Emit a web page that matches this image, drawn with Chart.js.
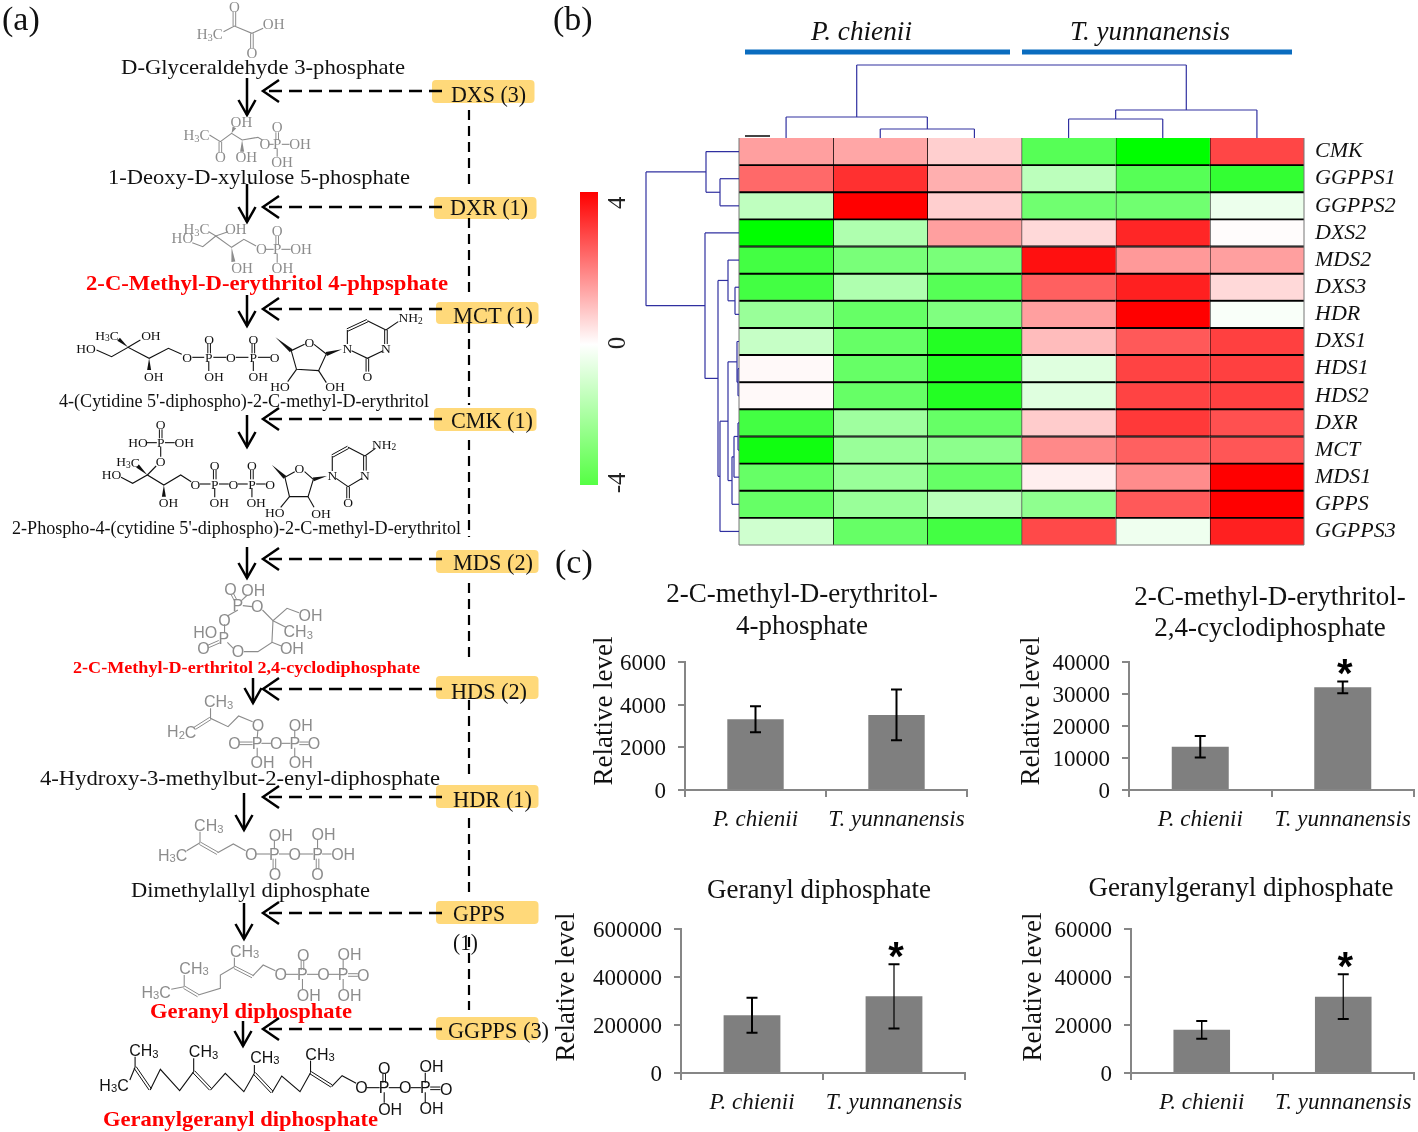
<!DOCTYPE html>
<html>
<head>
<meta charset="utf-8">
<script src="https://cdn.jsdelivr.net/npm/chart.js@4"></script>
<style>
html, body { margin: 0; padding: 0; background: #fff; overflow: hidden; }
#page { position: relative; width: 1418px; height: 1132px; overflow: hidden; }
.panel { position: absolute; }
#diagram { position: absolute; left: 0; top: 0; }
text { font-family: "Liberation Serif", serif; }
</style>
</head>
<body>
<div id="page">
  <div class="panel" id="boxHeat"><canvas id="heatChart"></canvas></div>
  <div class="panel" id="boxScale"><canvas id="scaleChart"></canvas></div>
  <div class="panel" id="boxMep"><canvas id="mepChart"></canvas></div>
  <div class="panel" id="boxCdp"><canvas id="cdpChart"></canvas></div>
  <div class="panel" id="boxGpp"><canvas id="gppChart"></canvas></div>
  <div class="panel" id="boxGgpp"><canvas id="ggppChart"></canvas></div>
  <svg id="diagram" width="1418" height="1132" xmlns="http://www.w3.org/2000/svg"></svg>
</div>
<script>
// --- heatmap data (b) ---
const genes = ['CMK', 'GGPPS1', 'GGPPS2', 'DXS2', 'MDS2', 'DXS3', 'HDR', 'DXS1', 'HDS1', 'HDS2', 'DXR', 'MCT', 'MDS1', 'GPPS', 'GGPPS3'];
const heatP1 = [1.5, 2.35, -1, -4, -2.95, -2.95, -1.6, -0.9, 0.1, 0.1, -2.95, -3.75, -2.4, -2.4, -0.75];
const heatP2 = [1.4, 3.25, 4, -1.25, -2.1, -1.25, -2.4, -2.4, -2.4, -2.4, -1.5, -1.6, -1.6, -1.6, -2.4];
const heatP3 = [0.75, 1.25, 0.75, 1.5, -2.1, -2.65, -2, -3.45, -3.45, -3.45, -2.4, -1.8, -2.4, -1.1, -2.95];
const heatT1 = [-2.65, -1.05, -2.25, 0.6, 3.75, 2.5, 1.5, 1.05, -0.5, -0.5, 0.8, 1.85, 0.25, -1.75, 2.85];
const heatT2 = [-4, -2.65, -2.25, 3.4, 1.6, 3.5, 4, 2.6, 2.95, 2.95, 3.1, 2.5, 1.8, 2.6, -0.25];
const heatT3 = [2.9, -3.2, -0.3, 0.05, 1.5, 0.6, -0.1, 3, 3, 3, 2.75, 2.65, 4, 4, 3.5];
const heatColumns = [heatP1, heatP2, heatP3, heatT1, heatT2, heatT3];
// linkage rows: [child, child, distance]; ids past the leaves point at earlier rows
const colLinkage = [[1, 2, 9], [0, 6, 21], [3, 4, 19], [8, 5, 28], [7, 9, 73]];
const rowLinkage = [[1, 2, 19], [0, 15, 33], [5, 6, 4], [4, 17, 11], [8, 9, 1], [7, 19, 2], [10, 11, 1], [12, 21, 5], [13, 22, 7], [20, 23, 11], [24, 14, 19], [18, 25, 21], [3, 26, 34], [16, 27, 93]];
const scaleTicks = [4, 0, -4];
const scaleRange = [-4.06, 4.31];

// --- bar data (c) ---
const species = ['P. chienii', 'T. yunnanensis'];
const mepLevel = [3320, 3520];
const mepError = [610, 1190];
const cdpLevel = [13530, 32090];
const cdpError = [3370, 1830];
const gppLevel = [240600, 319500];
const gppError = [72600, 133600];
const ggppLevel = [17970, 31800];
const ggppError = [3670, 9340];

function setBox(id, b) {
    const el = document.getElementById(id);
    el.style.left = b.l + 'px'; el.style.top = b.t + 'px';
    el.style.width = (b.r - b.l) + 'px'; el.style.height = (b.b - b.t) + 'px';
}

function heatColor(v) {
    const c = Math.round(255 * (1 - Math.abs(v) / 4));
    return v >= 0 ? `rgb(255,${c},${c})` : `rgb(${c},255,${c})`;
}

// walks a linkage table and draws the brackets; pos() and off() map to pixels
function drawTree(ctx, linkage, n, pos, off, horizontal) {
    const place = [];
    for (let i = 0; i < n; i++) place[i] = { p: pos(i), d: 0 };
    linkage.forEach((m, k) => {
        const a = place[m[0]], b = place[m[1]], d = off(m[2]);
        const seg = [[a.p, off(a.d), a.p, d], [a.p, d, b.p, d], [b.p, d, b.p, off(b.d)]];
        seg.forEach(s => {
            ctx.beginPath();
            if (horizontal) { ctx.moveTo(s[0], s[1]); ctx.lineTo(s[2], s[3]); }
            else { ctx.moveTo(s[1], s[0]); ctx.lineTo(s[3], s[2]); }
            ctx.stroke();
        });
        place[n + k] = { p: (a.p + b.p) / 2, d: m[2] };
    });
}

const heatBox = { l: 640, t: 60, r: 1418, b: 548 };
const heatPlot = { l: 739, t: 138, r: 1304, b: 545 };
setBox('boxHeat', heatBox);
new Chart(document.getElementById('heatChart'), {
    type: 'bar',
    data: {
        labels: genes,
        datasets: heatColumns.map((col, c) => ({
            data: col.map(() => [c, c + 1]),
            backgroundColor: col.map(heatColor),
            borderColor: '#000',
            borderSkipped: false,
            borderWidth: ctx => ({
                top: ctx.dataIndex === 0 ? 0 : 1.3,
                bottom: ctx.dataIndex === genes.length - 1 ? 0 : 1.3,
                left: c === 0 ? 0 : 1,
                right: 0
            }),
            barPercentage: 1,
            categoryPercentage: 1,
            grouped: false
        }))
    },
    options: {
        indexAxis: 'y',
        responsive: true,
        maintainAspectRatio: false,
        animation: false,
        layout: { padding: { left: heatPlot.l - heatBox.l, top: heatPlot.t - heatBox.t, right: 0, bottom: heatBox.b - heatPlot.b } },
        plugins: { legend: { display: false }, tooltip: { enabled: false } },
        scales: {
            x: { type: 'linear', min: 0, max: 6, display: false },
            y: {
                type: 'category',
                position: 'right',
                grid: { display: false },
                border: { display: false },
                ticks: { color: '#111', padding: 3, autoSkip: false, font: { family: 'Liberation Serif', style: 'italic', size: 22 } },
                afterFit(s) { s.width = heatBox.r - heatPlot.r; s.paddingTop = 0; s.paddingBottom = 0; }
            }
        }
    },
    plugins: [{
        id: 'dendrograms',
        afterDraw(chart) {
            const { ctx, chartArea: area, scales: { x, y } } = chart;
            ctx.save();
            ctx.strokeStyle = '#777';
            ctx.lineWidth = 1;
            ctx.beginPath();
            ctx.moveTo(area.left, area.top); ctx.lineTo(area.left, area.bottom);
            ctx.lineTo(area.right, area.bottom); ctx.lineTo(area.right, area.top);
            ctx.stroke();
            ctx.strokeStyle = '#3030a0';
            ctx.lineWidth = 1.2;
            drawTree(ctx, colLinkage, 6, i => x.getPixelForValue(i + 0.5), d => area.top - d, true);
            drawTree(ctx, rowLinkage, genes.length, i => y.getPixelForTick(i), d => area.left - d, false);
            ctx.restore();
        }
    }]
});

// colour key
const scaleBox = { l: 570, t: 180, r: 640, b: 500 };
const scalePlot = { l: 580, t: 192, r: 598, b: 485 };
setBox('boxScale', scaleBox);
new Chart(document.getElementById('scaleChart'), {
    type: 'bar',
    data: {
        labels: [''],
        datasets: [{
            data: [scaleRange],
            barPercentage: 1,
            categoryPercentage: 1,
            backgroundColor(c) {
                const area = c.chart.chartArea;
                if (!area) return '#fff';
                const g = c.chart.ctx.createLinearGradient(0, area.top, 0, area.bottom);
                g.addColorStop(0, '#ff0000');
                g.addColorStop(0.52, '#ffffff');
                g.addColorStop(1, '#55ff44');
                return g;
            }
        }]
    },
    options: {
        responsive: true,
        maintainAspectRatio: false,
        animation: false,
        layout: { padding: { left: scalePlot.l - scaleBox.l, top: scalePlot.t - scaleBox.t, right: scaleBox.r - scalePlot.r, bottom: scaleBox.b - scalePlot.b } },
        plugins: { legend: { display: false }, tooltip: { enabled: false } },
        scales: {
            x: { display: false },
            y: { min: scaleRange[0], max: scaleRange[1], display: false }
        }
    },
    plugins: [{
        id: 'keyLabels',
        afterDraw(chart) {
            const { ctx, scales: { y } } = chart;
            ctx.save();
            ctx.fillStyle = '#222';
            ctx.font = '25px "Liberation Serif"';
            ctx.textAlign = 'center';
            ctx.textBaseline = 'middle';
            scaleTicks.forEach(t => {
                ctx.save();
                ctx.translate(618 - scaleBox.l, y.getPixelForValue(t));
                ctx.rotate(-Math.PI / 2);
                ctx.fillText(String(t), 0, 0);
                ctx.restore();
            });
            ctx.restore();
        }
    }]
});

const axisGrey = '#868686';

function levelChart(cfg) {
    const { canvas, box, plot } = cfg;
    setBox(canvas.replace('Chart', '').replace(/^./, c => 'box' + c.toUpperCase()), box);
    new Chart(document.getElementById(canvas), {
        type: 'bar',
        data: {
            labels: species,
            datasets: [{ data: cfg.values, backgroundColor: '#7f7f7f', barPercentage: 0.8, categoryPercentage: 0.5 }]
        },
        options: {
            responsive: true,
            maintainAspectRatio: false,
            animation: false,
            layout: { padding: { left: 0, top: plot.t - box.t, right: box.r - plot.r, bottom: 0 } },
            plugins: { legend: { display: false }, tooltip: { enabled: false } },
            scales: {
                x: {
                    grid: { drawOnChartArea: false, color: axisGrey, tickLength: 7, lineWidth: 2 },
                    border: { color: axisGrey, width: 2 },
                    ticks: { color: '#111', padding: 9, autoSkip: false, maxRotation: 0, font: { family: 'Liberation Serif', style: 'italic', size: 23 } },
                    afterFit(s) { s.height = box.b - plot.b; s.paddingLeft = 0; s.paddingRight = 0; }
                },
                y: {
                    min: 0,
                    max: cfg.max,
                    grid: { drawOnChartArea: false, color: axisGrey, tickLength: 7, lineWidth: 2 },
                    border: { color: axisGrey, width: 2 },
                    ticks: { stepSize: cfg.step, color: '#111', padding: 12, labelOffset: 2, callback: v => String(v), font: { family: 'Liberation Serif', size: 23 } },
                    afterFit(s) { s.width = plot.l - box.l; }
                }
            }
        },
        plugins: [{
            id: 'errorsAndText',
            afterDatasetsDraw(chart) {
                const { ctx, scales: { y } } = chart;
                const bars = chart.getDatasetMeta(0).data;
                ctx.save();
                ctx.strokeStyle = '#000';
                ctx.fillStyle = '#000';
                bars.forEach((bar, i) => {
                    const hi = y.getPixelForValue(cfg.values[i] + cfg.errors[i]);
                    const lo = y.getPixelForValue(cfg.values[i] - cfg.errors[i]);
                    ctx.lineWidth = cfg.stemWidth[i];
                    ctx.beginPath();
                    ctx.moveTo(bar.x, hi); ctx.lineTo(bar.x, lo);
                    ctx.stroke();
                    ctx.lineWidth = 2;
                    ctx.beginPath();
                    ctx.moveTo(bar.x - 5.5, hi); ctx.lineTo(bar.x + 5.5, hi);
                    ctx.moveTo(bar.x - 5.5, lo); ctx.lineTo(bar.x + 5.5, lo);
                    ctx.stroke();
                    if (cfg.star[i]) {
                        ctx.font = 'bold 40px "Liberation Sans"';
                        ctx.textAlign = 'center';
                        ctx.textBaseline = 'middle';
                        ctx.fillText('*', bar.x + 2, hi - 5);
                    }
                });
                ctx.fillStyle = '#111';
                ctx.font = '27px "Liberation Serif"';
                ctx.textAlign = 'center';
                ctx.textBaseline = 'middle';
                cfg.title.forEach(t => ctx.fillText(t[0], t[1] - box.l, t[2] - box.t));
                ctx.save();
                ctx.translate(cfg.yLabel[0] - box.l, cfg.yLabel[1] - box.t);
                ctx.rotate(-Math.PI / 2);
                ctx.font = '27px "Liberation Serif"';
                ctx.fillText('Relative level', 0, 0);
                ctx.restore();
                ctx.restore();
            }
        }]
    });
}

levelChart({
    canvas: 'mepChart', box: { l: 550, t: 575, r: 1010, b: 850 }, plot: { l: 685, t: 662, r: 967, b: 790 },
    values: mepLevel, errors: mepError, max: 6000, step: 2000, star: [false, false], stemWidth: [2, 2],
    title: [['2-C-methyl-D-erythritol-', 802, 595], ['4-phosphate', 802, 627]], yLabel: [605, 711]
});
levelChart({
    canvas: 'cdpChart', box: { l: 1012, t: 575, r: 1418, b: 850 }, plot: { l: 1129, t: 662, r: 1414, b: 790 },
    values: cdpLevel, errors: cdpError, max: 40000, step: 10000, star: [false, true], stemWidth: [2, 2],
    title: [['2-C-methyl-D-erythritol-', 1270, 598], ['2,4-cyclodiphosphate', 1270, 629]], yLabel: [1032, 711]
});
levelChart({
    canvas: 'gppChart', box: { l: 550, t: 870, r: 1010, b: 1132 }, plot: { l: 681, t: 929, r: 965, b: 1073 },
    values: gppLevel, errors: gppError, max: 600000, step: 200000, star: [false, true], stemWidth: [2, 1.2],
    title: [['Geranyl diphosphate', 819, 891]], yLabel: [567, 987]
});
levelChart({
    canvas: 'ggppChart', box: { l: 1012, t: 870, r: 1418, b: 1132 }, plot: { l: 1131, t: 929, r: 1414, b: 1073 },
    values: ggppLevel, errors: ggppError, max: 60000, step: 20000, star: [false, true], stemWidth: [1.5, 1.2],
    title: [['Geranylgeranyl diphosphate', 1241, 889]], yLabel: [1034, 987]
});

// --- everything below is the pathway diagram (a) and the labels around the panels ---
const svg = document.getElementById('diagram');
function el(name, attrs, parent) {
    const e = document.createElementNS('http://www.w3.org/2000/svg', name);
    for (const k in attrs) e.setAttribute(k, attrs[k]);
    (parent || svg).appendChild(e);
    return e;
}
function label(str, x, y, o) {
    o = o || {};
    const attrs = { x, y, 'font-size': o.size || 22, fill: o.color || '#111' };
    if (o.family) attrs.style = `font-family:${o.family}`;
    if (o.bold) attrs['font-weight'] = 'bold';
    if (o.italic) attrs['font-style'] = 'italic';
    if (o.anchor) attrs['text-anchor'] = o.anchor;
    if (o.central) attrs['dominant-baseline'] = 'central';
    if (o.fit) { attrs.textLength = o.fit; attrs.lengthAdjust = 'spacingAndGlyphs'; }
    const t = el('text', attrs);
    str.split('_').forEach((part, i) => {
        if (i === 0) { t.appendChild(document.createTextNode(part)); return; }
        el('tspan', { 'font-size': (o.size || 22) * 0.7, dy: 3 }, t).textContent = part[0];
        el('tspan', { dy: -3 }, t).textContent = part.slice(1) || '\u200b';
    });
    return t;
}
function poly(pts, color, w, dash) {
    const a = { points: pts.join(' '), fill: 'none', stroke: color, 'stroke-width': w };
    if (dash) a['stroke-dasharray'] = dash;
    el('polyline', a);
}

// coordinates of a structure are given in the zoomed crop (x/2.85, y/3 plus a base)
function molecule(m) {
    const X = v => v / 2.85, Y = v => m.base + v / 3;
    const map = p => p.map((v, i) => i % 2 ? Y(v) : X(v));
    (m.lines || []).forEach(p => poly(map(p), m.color, 1.1));
    (m.doubles || []).forEach(s => {
        const p = map(s), dx = p[2] - p[0], dy = p[3] - p[1], len = Math.hypot(dx, dy);
        const nx = -dy / len * 1.3, ny = dx / len * 1.3;
        poly([p[0] + nx, p[1] + ny, p[2] + nx, p[3] + ny], m.color, 1);
        poly([p[0] - nx, p[1] - ny, p[2] - nx, p[3] - ny], m.color, 1);
    });
    (m.wedges || []).forEach(s => {
        const p = map(s), dx = p[2] - p[0], dy = p[3] - p[1], len = Math.hypot(dx, dy);
        const nx = -dy / len * 2, ny = dx / len * 2;
        el('polygon', { points: [p[0], p[1], p[2] + nx, p[3] + ny, p[2] - nx, p[3] - ny].join(' '), fill: m.color });
    });
    (m.atoms || []).forEach(a => {
        label(a[2], X(a[0]), Y(a[1]), { size: m.size, color: m.color, family: m.family, anchor: 'middle', central: true });
    });
}

const grey = '#8c8c8c', sans = '"Liberation Sans"', serif = '"Liberation Serif"';
const structures = [
    { base: 0, color: grey, size: 15, family: serif,
      atoms: [[668, 20, 'O'], [780, 73, 'OH'], [598, 103, 'H_3C'], [718, 160, 'O']],
      lines: [[637, 95, 668, 78, 718, 100, 750, 85]],
      doubles: [[668, 35, 668, 78], [718, 100, 718, 145]] },
    { base: 0, color: grey, size: 15, family: serif,
      atoms: [[688, 367, 'OH'], [560, 405, 'H_3C'], [790, 382, 'O'], [755, 433, 'O'], [790, 433, 'P'], [855, 433, 'OH'], [628, 472, 'O'], [702, 470, 'OH'], [804, 487, 'OH']],
      lines: [[597, 405, 628, 425, 660, 400, 690, 420, 735, 412, 748, 420], [767, 433, 780, 433], [803, 433, 825, 433], [790, 446, 790, 470]],
      doubles: [[628, 425, 628, 458], [790, 397, 790, 420]],
      wedges: [[660, 400, 668, 382], [690, 420, 690, 455]] },
    { base: 0, color: grey, size: 15, family: serif,
      atoms: [[560, 688, 'H_3C'], [672, 688, 'OH'], [520, 715, 'HO'], [790, 693, 'O'], [745, 748, 'O'], [790, 748, 'P'], [858, 748, 'OH'], [690, 803, 'OH'], [805, 803, 'OH']],
      lines: [[548, 728, 578, 740, 615, 708, 660, 742, 695, 718, 730, 738], [595, 695, 615, 708, 650, 695], [758, 748, 780, 748], [802, 748, 828, 748], [790, 762, 790, 788]],
      doubles: [[790, 708, 790, 735]],
      wedges: [[660, 742, 665, 785]] },
    { base: 0, color: '#111', size: 13.5, family: serif,
      atoms: [[305, 1005, 'H_3C'], [430, 1005, 'OH'], [245, 1045, 'HO'], [533, 1072, 'O'], [595, 1072, 'P'], [596, 1017, 'O'], [610, 1128, 'OH'], [658, 1072, 'O'], [722, 1072, 'P'], [722, 1017, 'O'], [736, 1128, 'OH'], [783, 1072, 'O'], [882, 1026, 'O'], [990, 1045, 'N'], [1100, 1045, 'N'], [1170, 953, 'NH_2'], [1047, 1130, 'O'], [438, 1128, 'OH'], [798, 1158, 'HO'], [955, 1160, 'OH']],
      lines: [[275, 1050, 318, 1070, 365, 1042, 425, 1075, 480, 1045, 518, 1063], [365, 1042, 400, 1020], [548, 1072, 582, 1072], [608, 1072, 645, 1072], [672, 1072, 708, 1072], [735, 1072, 770, 1072], [595, 1084, 595, 1113], [722, 1084, 722, 1113], [868, 1033, 830, 1052, 845, 1108, 908, 1112, 930, 1062, 895, 1033], [845, 1108, 820, 1145], [908, 1112, 930, 1148], [990, 1032, 990, 990], [1047, 962, 1100, 990], [1092, 1052, 1047, 1075, 1002, 1052], [1100, 990, 1135, 965]],
      doubles: [[596, 1030, 596, 1060], [722, 1030, 722, 1060], [1047, 1075, 1047, 1115], [990, 990, 1047, 962], [1100, 990, 1100, 1032]],
      wedges: [[365, 1042, 338, 1018], [425, 1075, 425, 1110], [785, 1012, 830, 1052], [975, 1048, 930, 1062]] },
    { base: 390, color: '#111', size: 13.5, family: serif,
      atoms: [[458, 103, 'O'], [393, 158, 'HO'], [458, 158, 'P'], [525, 158, 'OH'], [365, 215, 'H_3C'], [458, 213, 'O'], [318, 254, 'HO'], [557, 282, 'O'], [612, 282, 'P'], [612, 227, 'O'], [625, 337, 'OH'], [665, 282, 'O'], [718, 282, 'P'], [718, 227, 'O'], [730, 337, 'OH'], [770, 282, 'O'], [853, 236, 'O'], [947, 255, 'N'], [1040, 255, 'N'], [1095, 163, 'NH_2'], [992, 338, 'O'], [480, 337, 'OH'], [783, 368, 'HO'], [915, 370, 'OH']],
      lines: [[345, 262, 378, 280, 420, 255, 467, 285, 515, 255, 545, 275], [420, 255, 445, 228], [418, 158, 447, 158], [470, 158, 498, 158], [458, 170, 458, 200], [570, 282, 600, 282], [624, 282, 652, 282], [678, 282, 706, 282], [730, 282, 757, 282], [612, 294, 612, 322], [718, 294, 718, 322], [840, 245, 812, 262, 825, 320, 878, 320, 893, 268, 868, 245], [825, 320, 800, 352], [878, 320, 895, 352], [947, 243, 947, 198], [992, 172, 1040, 198], [1032, 265, 992, 290, 958, 265], [1040, 198, 1070, 175]],
      doubles: [[458, 118, 458, 145], [612, 240, 612, 268], [718, 240, 718, 268], [992, 290, 992, 325], [947, 198, 992, 172], [1040, 198, 1040, 242]],
      wedges: [[420, 255, 392, 228], [467, 285, 467, 320], [775, 225, 812, 262], [932, 258, 893, 268]] },
    { base: 390, color: grey, size: 16, family: sans,
      atoms: [[657, 598, 'O'], [722, 600, 'OH'], [678, 645, 'P'], [733, 650, 'O'], [885, 675, 'OH'], [850, 725, 'CH_3'], [640, 690, 'O'], [585, 728, 'HO'], [638, 745, 'P'], [580, 775, 'O'], [678, 785, 'O'], [832, 775, 'OH']],
      lines: [[688, 632, 705, 615], [692, 647, 718, 650], [748, 660, 778, 692, 818, 655, 852, 668], [778, 692, 775, 757, 735, 785, 695, 785], [778, 692, 815, 712], [775, 757, 802, 768], [678, 660, 648, 678], [640, 703, 640, 730], [648, 757, 665, 775]],
      doubles: [[662, 612, 672, 632], [592, 770, 625, 755]] },
    { base: 390, color: grey, size: 16, family: sans,
      atoms: [[623, 935, 'CH_3'], [518, 1025, 'H_2C'], [735, 1005, 'O'], [857, 1005, 'OH'], [668, 1060, 'O'], [733, 1060, 'P'], [787, 1060, 'O'], [840, 1060, 'P'], [895, 1060, 'O'], [748, 1117, 'OH'], [857, 1117, 'OH']],
      lines: [[600, 955, 600, 985, 650, 1010, 680, 978, 720, 995], [735, 1020, 733, 1045], [745, 1060, 772, 1060], [802, 1060, 828, 1060], [840, 1020, 840, 1045], [733, 1073, 733, 1100], [840, 1073, 840, 1100]],
      doubles: [[555, 1015, 600, 985], [682, 1060, 720, 1060], [853, 1060, 880, 1060]] },
    { base: 780, color: grey, size: 16, family: sans,
      atoms: [[595, 137, 'CH_3'], [492, 225, 'H_3C'], [716, 222, 'O'], [782, 222, 'P'], [800, 165, 'OH'], [840, 222, 'O'], [905, 222, 'P'], [922, 162, 'OH'], [978, 222, 'OH'], [784, 283, 'O'], [905, 282, 'O']],
      lines: [[570, 155, 570, 188], [532, 212, 570, 188], [620, 218, 665, 192, 700, 212], [730, 222, 770, 222], [795, 222, 826, 222], [854, 222, 892, 222], [918, 222, 945, 222], [782, 183, 782, 208], [905, 180, 905, 208]],
      doubles: [[570, 190, 620, 220], [782, 236, 782, 268], [905, 236, 905, 268]] },
    { base: 780, color: grey, size: 16, family: sans,
      atoms: [[697, 513, 'CH_3'], [553, 565, 'CH_3'], [445, 637, 'H_3C'], [800, 583, 'O'], [862, 583, 'P'], [864, 527, 'O'], [880, 645, 'OH'], [922, 583, 'O'], [978, 583, 'P'], [996, 524, 'OH'], [1035, 587, 'O'], [996, 645, 'OH']],
      lines: [[488, 628, 525, 620], [565, 645, 628, 625, 628, 585, 668, 560], [720, 588, 750, 555, 785, 572], [525, 620, 525, 585], [668, 560, 668, 533], [815, 583, 850, 583], [875, 583, 908, 583], [936, 583, 966, 583], [862, 597, 862, 628], [978, 597, 978, 628], [978, 540, 978, 570]],
      doubles: [[525, 622, 565, 647], [668, 562, 720, 590], [862, 540, 862, 570], [992, 585, 1020, 585]] },
    { base: 780, color: '#111', size: 16, family: sans,
      atoms: [[410, 812, 'CH_3'], [580, 815, 'CH_3'], [755, 832, 'CH_3'], [912, 822, 'CH_3'], [325, 915, 'H_3C'], [1030, 923, 'O'], [1095, 923, 'P'], [1095, 865, 'O'], [1112, 987, 'OH'], [1155, 923, 'O'], [1212, 923, 'P'], [1230, 860, 'OH'], [1272, 927, 'O'], [1230, 985, 'OH']],
      lines: [[370, 900, 385, 862], [428, 930, 457, 868, 512, 932, 552, 875], [600, 930, 642, 880, 695, 935, 725, 880], [775, 938, 803, 888, 855, 935, 885, 878], [945, 920, 975, 887, 1015, 910], [385, 862, 385, 830], [552, 875, 552, 835], [725, 880, 725, 855], [885, 878, 885, 842], [1045, 923, 1082, 923], [1108, 923, 1140, 923], [1170, 923, 1200, 923], [1095, 937, 1095, 968], [1212, 937, 1212, 968], [1212, 878, 1212, 908]],
      doubles: [[385, 862, 428, 928], [552, 875, 600, 928], [725, 880, 775, 936], [885, 878, 945, 918], [1095, 880, 1095, 908], [1226, 925, 1255, 925]] }
];
structures.forEach(molecule);

const compounds = [
    ['D-Glyceraldehyde 3-phosphate', 121, 74, 284, 22],
    ['1-Deoxy-D-xylulose 5-phosphate', 108, 184, 302, 22],
    ['2-C-Methyl-D-erythritol 4-phpsphate', 86, 290, 362, 22, true],
    ["4-(Cytidine 5'-diphospho)-2-C-methyl-D-erythritol", 59, 407, 370, 18],
    ["2-Phospho-4-(cytidine 5'-diphospho)-2-C-methyl-D-erythritol", 12, 534, 449, 18],
    ['2-C-Methyl-D-erthritol 2,4-cyclodiphosphate', 73, 673, 347, 17, true],
    ['4-Hydroxy-3-methylbut-2-enyl-diphosphate', 40, 785, 400, 22],
    ['Dimethylallyl diphosphate', 131, 897, 239, 22],
    ['Geranyl diphosphate', 150, 1018, 202, 22, true],
    ['Geranylgeranyl diphosphate', 103, 1126, 275, 22, true]
];
compounds.forEach(c => label(c[0], c[1], c[2], { fit: c[3], size: c[4], bold: c[5], color: c[5] ? '#ff0000' : '#111' }));

// enzyme tags: text, box left, box top, box bottom, text left, text width, baseline
const enzymes = [
    ['DXS (3)', 432, 80, 103, 451, 75, 102],
    ['DXR (1)', 434, 197, 219, 450, 78, 215],
    ['MCT (1)', 436, 302, 324, 453, 80, 323],
    ['CMK (1)', 434, 408, 431, 451, 82, 428],
    ['MDS (2)', 436, 550, 573, 453, 80, 570],
    ['HDS (2)', 436, 676, 699, 451, 76, 699],
    ['HDR (1)', 436, 785, 808, 453, 79, 807],
    ['GPPS', 436, 901, 924, 453, 52, 921],
    ['GGPPS (3)', 436, 1017, 1040, 448, 101, 1038]
];
enzymes.forEach(e => el('rect', { x: e[1], y: e[2], width: 102.5, height: e[3] - e[2], rx: 4, fill: '#ffd97a' }));
enzymes.forEach(e => label(e[0], e[4], e[6], { fit: e[5], size: 24 }));
label('(1)', 453, 950, { fit: 25, size: 24 });

const stepArrows = [[247, 78, 115], [247, 184, 222], [247, 295, 326], [247, 415, 447], [247, 547, 578], [253, 678, 703], [244, 793, 830], [244, 903, 939], [243, 1021, 1046]];
stepArrows.forEach(a => {
    poly([a[0], a[1], a[0], a[2]], '#000', 2.5);
    poly([a[0] - 8.5, a[2] - 15, a[0], a[2], a[0] + 8.5, a[2] - 15], '#000', 2.5);
});
const inhibitY = [91, 207, 309, 419, 559, 689, 797, 913, 1029];
inhibitY.forEach(y => {
    poly([442, y, 266, y], '#000', 2.4, '13 7');
    poly([279, y - 11, 263, y, 279, y + 11], '#000', 2.5);
});
const trunk = [[110, 186], [218, 295], [323, 405], [440, 537], [583, 658], [700, 777], [818, 895], [937, 1010]];
trunk.forEach(s => poly([469, s[0], 469, s[1]], '#000', 2.2, '10 6'));

// panel letters, species headers
label('(a)', 2, 30, { size: 34 });
label('(b)', 553, 30, { size: 34 });
label('(c)', 555, 573, { size: 34 });
label('P. chienii', 811, 40, { size: 27, italic: true, fit: 101 });
label('T. yunnanensis', 1070, 40, { size: 27, italic: true, fit: 160 });
el('rect', { x: 745, y: 49.5, width: 265, height: 5, fill: '#0a6cbf' });
el('rect', { x: 1022, y: 49.5, width: 270, height: 5, fill: '#0a6cbf' });
el('rect', { x: 745, y: 135, width: 25, height: 2, fill: '#444' });
</script>
</body>
</html>
